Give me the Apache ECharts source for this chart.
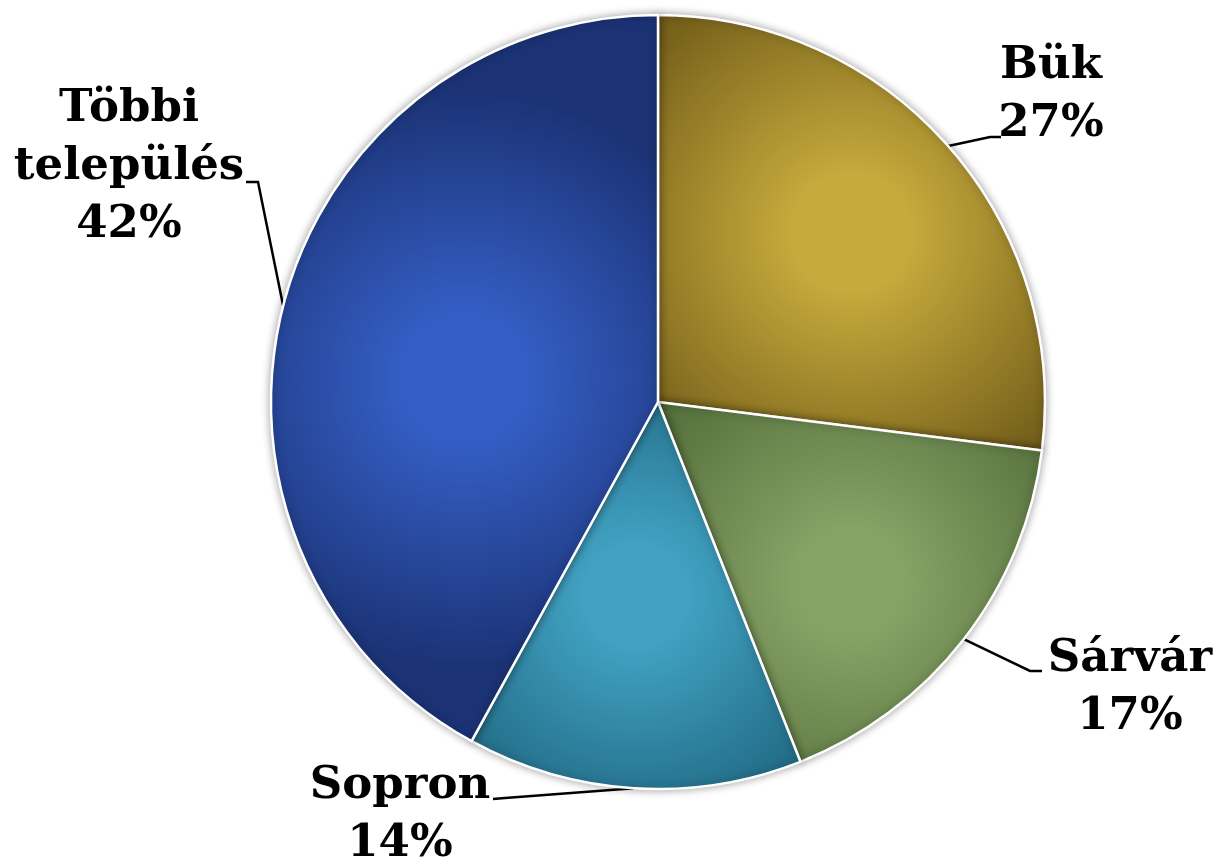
<!DOCTYPE html>
<html>
<head>
<meta charset="utf-8">
<script src="https://cdn.jsdelivr.net/npm/echarts@6/dist/echarts.min.js"></script>
<style>html,body{margin:0;padding:0;background:#fff}#c{width:1220px;height:864px}</style>
</head>
<body>
<div id="c"></div>
<script>
const categories = ["Bük", "Sárvár", "Sopron", "Többi település"];
const values = [27, 17, 14, 42];
const colorsInner = ["#c6aa3c", "#86a265", "#41a2c2", "#355fc6"];
const colorsOuter = ["#6f5a18", "#4f6a37", "#1f6680", "#1b3274"];

// label layout (centre of text block and label-line bends)
const labelPos = [
  {x: 1051, y: 95, pts: [[990, 137], [1001, 137]]},
  {x: 1130, y: 688, pts: [[1030, 671], [1042, 671]]},
  {x: 400, y: 815, pts: [[505, 798], [493, 799]]},
  {x: 129, y: 167, pts: [[258, 182], [246, 182]]}
];

const chart = echarts.init(document.getElementById('c'));
chart.setOption({
  backgroundColor: '#ffffff',
  animation: false,
  series: [{
    type: 'pie',
    center: [658, 402],
    radius: 387,
    startAngle: 90,
    clockwise: true,
    data: categories.map((n, i) => ({
      name: n,
      value: values[i],
      itemStyle: {
        color: {
          type: 'radial', x: 0.5, y: 0.5, r: 0.75,
          colorStops: [
            {offset: 0, color: colorsInner[i]},
            {offset: 0.2, color: colorsInner[i]},
            {offset: 1, color: colorsOuter[i]}
          ]
        }
      }
    })),
    itemStyle: {
      borderColor: '#ffffff',
      borderWidth: 2.5,
      shadowBlur: 8,
      shadowColor: 'rgba(0,0,0,0.35)'
    },
    label: {
      show: true,
      position: 'outside',
      formatter: p => p.name.replace(' ', '\n') + '\n' + p.percent + '%',
      fontFamily: 'DejaVu Serif',
      fontWeight: 'bold',
      fontSize: 45,
      lineHeight: 58,
      color: '#000000',
      align: 'center',
      overflow: 'none'
    },
    labelLine: {
      show: true,
      lineStyle: {color: '#000000', width: 2.5}
    },
    labelLayout: function (params) {
      const lp = labelPos[params.dataIndex];
      const start = params.labelLinePoints ? params.labelLinePoints[0] : lp.pts[0];
      return {
        x: lp.x,
        y: lp.y,
        align: 'center',
        verticalAlign: 'middle',
        labelLinePoints: [start, lp.pts[0], lp.pts[1]]
      };
    }
  }]
});
</script>
</body>
</html>
